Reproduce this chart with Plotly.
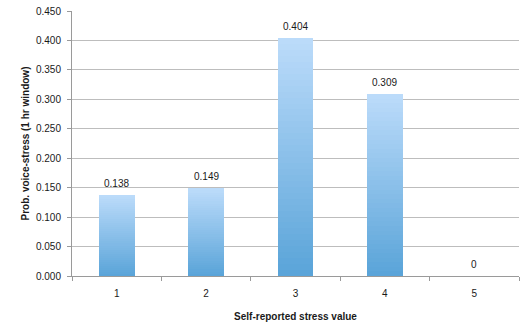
import plotly.graph_objects as go

# Stress level categories and the probability of voice-detected stress
stress_levels = ["1", "2", "3", "4", "5"]
prob_values = [0.138, 0.149, 0.404, 0.309, 0.0]
value_labels = ["0.138", "0.149", "0.404", "0.309", "0"]
y_tick_vals = [0.0, 0.05, 0.10, 0.15, 0.20, 0.25, 0.30, 0.35, 0.40, 0.45]
y_tick_text = ["0.000", "0.050", "0.100", "0.150", "0.200",
               "0.250", "0.300", "0.350", "0.400", "0.450"]

TOP_RGB = (187, 219, 250)
BOTTOM_RGB = (88, 163, 216)
STEPS = 40
FONT = "Liberation Sans"
TEXT_COLOR = "#1a1a1a"

fig = go.Figure()

# Vertical gradient per bar: overlay bars of shrinking height, each a bit darker
for k in range(STEPS, 0, -1):
    frac = k / STEPS
    t = 1 - frac  # 0 at top layer, 1 at bottom
    r, g, b = (round(TOP_RGB[i] + (BOTTOM_RGB[i] - TOP_RGB[i]) * t) for i in range(3))
    fig.add_trace(go.Bar(
        x=stress_levels,
        y=[v * frac for v in prob_values],
        width=0.4,
        marker=dict(color=f"rgb({r},{g},{b})", line=dict(width=0)),
        hoverinfo="skip",
        showlegend=False,
    ))

# Value labels above each bar (category axis: position by category index)
for idx, (val, lab) in enumerate(zip(prob_values, value_labels)):
    fig.add_annotation(
        x=idx, y=val, text=lab,
        showarrow=False, yanchor="bottom", yshift=4,
        font=dict(family=FONT, size=10, color=TEXT_COLOR),
    )

fig.update_layout(
    width=524, height=329,
    barmode="overlay",
    bargap=0,
    margin=dict(l=72, r=5, t=11, b=53),
    paper_bgcolor="white",
    plot_bgcolor="white",
    font=dict(family=FONT, size=10, color=TEXT_COLOR),
    xaxis=dict(
        type="category",
        range=[-0.5, 4.5],
        tickson="boundaries",
        ticks="outside",
        ticklen=4,
        tickcolor="#9a9a9a",
        ticklabelstandoff=8,
        showline=True,
        linecolor="#9a9a9a",
        linewidth=1,
        showgrid=False,
        tickfont=dict(family=FONT, size=10, color=TEXT_COLOR),
        title=dict(text="<b>Self-reported stress value</b>",
                   font=dict(family=FONT, size=10, color=TEXT_COLOR),
                   standoff=14),
    ),
    yaxis=dict(
        range=[0, 0.45],
        tickvals=y_tick_vals,
        ticktext=y_tick_text,
        ticks="outside",
        ticklen=4,
        tickcolor="#9a9a9a",
        ticklabelstandoff=4,
        showline=True,
        linecolor="#9a9a9a",
        linewidth=1,
        showgrid=True,
        gridcolor="#bdbdbd",
        gridwidth=1,
        zeroline=False,
        tickfont=dict(family=FONT, size=10, color=TEXT_COLOR),
        title=dict(text="<b>Prob. voice-stress (1 hr window)</b>",
                   font=dict(family=FONT, size=10, color=TEXT_COLOR),
                   standoff=4),
    ),
)

fig.write_html("out.html")
